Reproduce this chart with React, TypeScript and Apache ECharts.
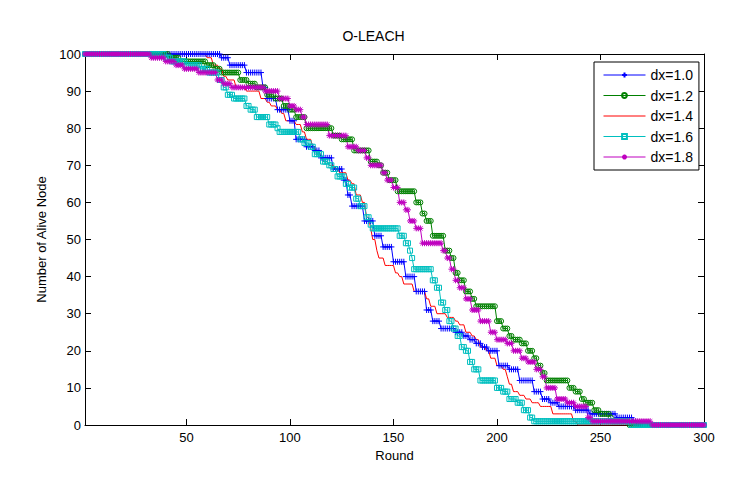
import React, { useEffect, useRef } from "react";
import * as echarts from "echarts";

// Rounds simulated
const ROUND_FIRST = 1;
const ROUND_LAST = 300;

// Alive-node count per scheme, stored as [round, alive] change points:
// from that round on the network keeps that many alive nodes.
const aliveDx10: [number, number][] = [
  [1, 100], [67, 99], [71, 97], [79, 95], [87, 91], [89, 88], [94, 85], [100, 82],
  [103, 77], [108, 75], [112, 74], [115, 72], [121, 69], [126, 66], [128, 62], [130, 59],
  [136, 55], [141, 51], [145, 48], [150, 44], [156, 40], [161, 36], [166, 31], [169, 28],
  [173, 26], [180, 25], [184, 24], [187, 23], [190, 22], [193, 21], [196, 20], [201, 16],
  [206, 15], [211, 12], [218, 9], [222, 7], [226, 6], [230, 5], [238, 4], [245, 3],
  [258, 2], [266, 1], [268, 0],
];

const aliveDx12: [number, number][] = [
  [1, 100], [42, 99], [47, 98], [60, 97], [64, 96], [67, 95], [76, 93], [80, 92],
  [84, 91], [89, 89], [93, 88], [97, 86], [100, 85], [103, 83], [108, 80], [121, 78],
  [125, 77], [131, 74], [139, 71], [143, 70], [145, 68], [148, 66], [152, 63], [161, 60],
  [164, 57], [166, 55], [169, 51], [175, 47], [178, 45], [180, 41], [182, 39], [185, 36],
  [188, 34], [190, 32], [200, 28], [203, 26], [206, 24], [208, 23], [212, 22], [215, 20],
  [218, 18], [220, 16], [222, 14], [224, 12], [235, 10], [238, 9], [241, 7], [243, 6],
  [247, 4], [250, 3], [255, 2], [256, 1], [264, 0],
];

const aliveDx14: [number, number][] = [
  [1, 100], [60, 99], [63, 97], [66, 96], [68, 94], [70, 93], [74, 91], [79, 90],
  [86, 88], [89, 87], [91, 86], [94, 85], [96, 84], [98, 82], [103, 81], [106, 79],
  [108, 77], [111, 75], [113, 73], [116, 71], [119, 70], [122, 69], [124, 68], [128, 66],
  [130, 65], [132, 62], [135, 60], [137, 56], [139, 53], [140, 50], [142, 47], [143, 45],
  [146, 43], [151, 41], [153, 40], [155, 38], [160, 36], [166, 34], [168, 32], [171, 30],
  [176, 29], [180, 28], [182, 27], [185, 25], [188, 24], [190, 23], [192, 21], [195, 20],
  [197, 18], [200, 16], [203, 15], [205, 13], [206, 11], [208, 9], [211, 8], [214, 7],
  [217, 6], [221, 5], [227, 3], [237, 1], [239, 0],
];

const aliveDx16: [number, number][] = [
  [1, 100], [40, 99], [43, 98], [50, 97], [57, 96], [61, 95], [66, 93], [68, 91],
  [70, 89], [73, 88], [79, 86], [81, 85], [84, 83], [90, 81], [94, 80], [95, 79],
  [105, 77], [107, 76], [110, 75], [112, 73], [116, 71], [119, 70], [121, 69], [123, 67],
  [127, 65], [129, 64], [132, 61], [134, 59], [137, 56], [139, 54], [140, 53], [153, 51],
  [156, 49], [158, 47], [159, 45], [160, 42], [169, 39], [171, 37], [173, 33], [175, 31],
  [177, 28], [179, 26], [181, 24], [183, 21], [185, 20], [187, 17], [189, 15], [192, 12],
  [200, 10], [203, 9], [206, 7], [210, 6], [213, 4], [216, 2], [218, 1], [265, 0],
];

const aliveDx18: [number, number][] = [
  [1, 100], [33, 99], [40, 98], [45, 97], [49, 96], [56, 95], [65, 93], [68, 92],
  [72, 91], [88, 90], [95, 88], [100, 86], [103, 85], [106, 83], [108, 81], [119, 78],
  [128, 75], [133, 74], [137, 72], [139, 70], [145, 68], [147, 66], [150, 64], [153, 60],
  [156, 58], [158, 55], [161, 53], [164, 49], [174, 47], [176, 45], [178, 42], [180, 39],
  [182, 37], [185, 34], [188, 31], [192, 28], [197, 25], [200, 23], [205, 22], [208, 20],
  [212, 18], [215, 17], [219, 15], [222, 13], [224, 10], [229, 7], [234, 6], [238, 5],
  [244, 2], [246, 1], [275, 0],
];

const seriesNames = ["dx=1.0", "dx=1.2", "dx=1.4", "dx=1.6", "dx=1.8"];
const xTickValues = [50, 100, 150, 200, 250, 300];

// Marker glyphs in the classic plotting style (+, o, none, square, *)
const MARK_PLUS = "path://M5,0L5,10M0,5L10,5";
const MARK_CIRCLE = "path://M0,5A5,5,0,1,1,10,5A5,5,0,1,1,0,5Z";
const MARK_SQUARE = "path://M0,0L10,0L10,10L0,10Z";
const MARK_STAR = "path://M5,0L5,10M0,5L10,5M1.5,1.5L8.5,8.5M8.5,1.5L1.5,8.5";

// One value per round: the count holds until the next change point.
function perRound(steps: [number, number][]): [number, number][] {
  const out: [number, number][] = [];
  let k = 0;
  for (let r = ROUND_FIRST; r <= ROUND_LAST; r++) {
    while (k + 1 < steps.length && steps[k + 1][0] <= r) k++;
    out.push([r, steps[k][1]]);
  }
  return out;
}

const FONT = "'Liberation Sans', Arial, sans-serif";

export default function App() {
  const ref = useRef<HTMLDivElement>(null);

  useEffect(() => {
    if (!ref.current) return;
    const chart = echarts.init(ref.current, null, { renderer: "svg" });

    const styles = [
      { color: "#0000ff", symbol: MARK_PLUS, size: 6, marked: true },
      { color: "#008000", symbol: MARK_CIRCLE, size: 5, marked: true },
      { color: "#ff0000", symbol: "circle", size: 0, marked: false },
      { color: "#00bfbf", symbol: MARK_SQUARE, size: 5, marked: true },
      { color: "#bf00bf", symbol: MARK_STAR, size: 6, marked: true },
    ];
    const datasets = [aliveDx10, aliveDx12, aliveDx14, aliveDx16, aliveDx18];

    const series = datasets.map((steps, i) => ({
      name: seriesNames[i],
      type: "line",
      data: perRound(steps),
      symbol: styles[i].symbol,
      symbolSize: styles[i].size,
      showSymbol: styles[i].marked,
      lineStyle: { color: styles[i].color, width: 1 },
      itemStyle: {
        color: "transparent",
        borderColor: styles[i].marked ? styles[i].color : "transparent",
        borderWidth: styles[i].marked ? 1 : 0,
      },
      emphasis: { disabled: true },
      silent: true,
    }));

    const axisLine = { show: true, onZero: false, lineStyle: { color: "#000", width: 1 } };

    chart.setOption({
      animation: false,
      backgroundColor: "#fff",
      title: {
        text: "O-LEACH",
        left: "center",
        top: 29,
        padding: 0,
        textStyle: { fontFamily: FONT, fontSize: 14, fontWeight: "normal", color: "#000" },
      },
      grid: { left: 85, right: 43, top: 54, bottom: 55, outerBoundsMode: "none" },
      legend: {
        orient: "vertical",
        left: 594,
        top: 62,
        padding: [6, 6, 6, 9],
        itemWidth: 42,
        itemHeight: 6,
        itemGap: 6.5,
        borderColor: "#000",
        borderWidth: 1,
        backgroundColor: "#fff",
        lineStyle: { width: 1 },
        textStyle: { fontFamily: FONT, fontSize: 14, color: "#000" },
        data: seriesNames,
      },
      xAxis: [
        {
          type: "value",
          min: ROUND_FIRST,
          max: ROUND_LAST,
          name: "Round",
          nameLocation: "middle",
          nameGap: 22,
          nameTextStyle: { fontFamily: FONT, fontSize: 13, color: "#000" },
          axisLine,
          axisTick: { show: true, inside: true, length: 6, customValues: xTickValues, lineStyle: { color: "#000" } },
          axisLabel: { customValues: xTickValues, margin: 6, fontFamily: FONT, fontSize: 13, color: "#000" },
          splitLine: { show: false },
        },
        {
          type: "value",
          position: "top",
          min: ROUND_FIRST,
          max: ROUND_LAST,
          axisLine,
          axisTick: { show: true, inside: true, length: 6, customValues: xTickValues, lineStyle: { color: "#000" } },
          axisLabel: { show: false },
          splitLine: { show: false },
        },
      ],
      yAxis: [
        {
          type: "value",
          min: 0,
          max: 100,
          interval: 10,
          name: "Number of Alive Node",
          nameLocation: "middle",
          nameGap: 29,
          nameTextStyle: { fontFamily: FONT, fontSize: 13, color: "#000" },
          axisLine,
          axisTick: { show: true, inside: true, length: 6, lineStyle: { color: "#000" } },
          axisLabel: { margin: 4, fontFamily: FONT, fontSize: 13, color: "#000" },
          splitLine: { show: false },
        },
        {
          type: "value",
          position: "right",
          min: 0,
          max: 100,
          interval: 10,
          axisLine,
          axisTick: { show: true, inside: true, length: 6, lineStyle: { color: "#000" } },
          axisLabel: { show: false },
          splitLine: { show: false },
        },
      ],
      series,
    });

    return () => chart.dispose();
  }, []);

  return (
    <div
      ref={ref}
      style={{ position: "absolute", left: 0, top: 0, width: 747, height: 480, background: "#fff" }}
    />
  );
}
